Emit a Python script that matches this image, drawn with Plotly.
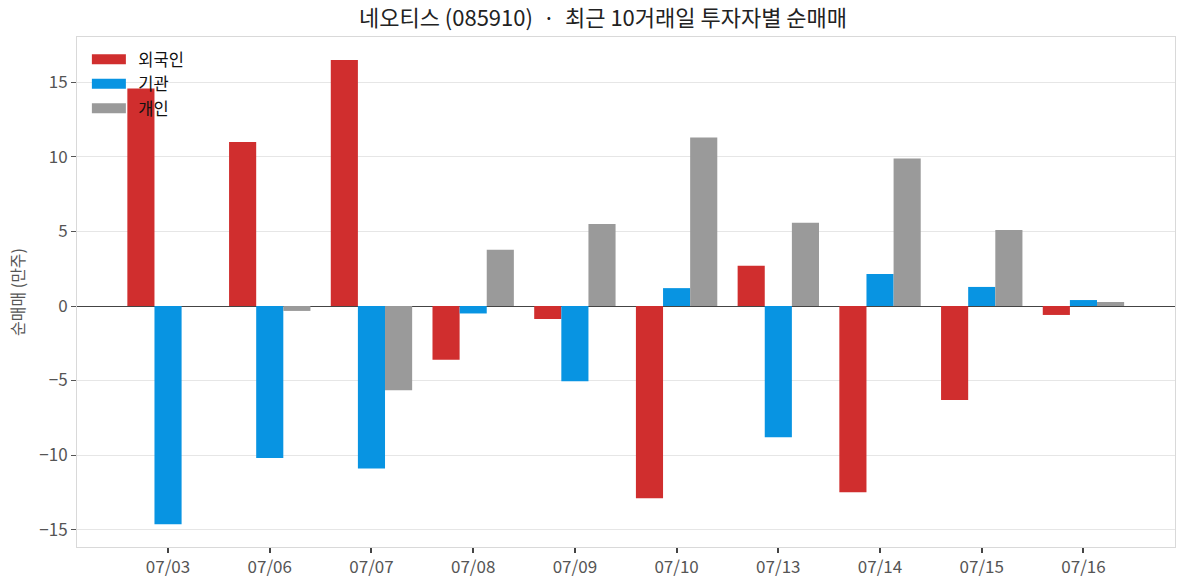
import plotly.graph_objects as go

dates = ["07/03", "07/06", "07/07", "07/08", "07/09", "07/10", "07/13", "07/14", "07/15", "07/16"]
foreign = [14.6, 11.0, 16.5, -3.6, -0.87, -12.9, 2.7, -12.5, -6.3, -0.6]
institution = [-14.65, -10.2, -10.9, -0.5, -5.05, 1.2, -8.8, 2.15, 1.28, 0.4]
individual = [0.0, -0.33, -5.65, 3.77, 5.5, 11.3, 5.58, 9.9, 5.1, 0.27]

names = ["외국인", "기관", "개인"]
colors = ["#d02e2e", "#0894e2", "#9a9a9a"]
series = [foreign, institution, individual]

FONT = "Noto Sans CJK KR"

fig = go.Figure()
for name, col, vals in zip(names, colors, series):
    fig.add_trace(go.Bar(x=dates, y=vals, name=name, marker=dict(color=col, line=dict(width=0)),
                         showlegend=False, legendgroup=name))
for name, col in zip(names, colors):
    fig.add_trace(go.Scatter(x=[None], y=[None], mode="lines", name="\u00a0\u00a0" + name,
                             line=dict(color=col, width=11), legendgroup=name, showlegend=True))

fig.update_layout(
    width=1187, height=587,
    margin=dict(l=77, r=12, t=37, b=40, autoexpand=False),
    paper_bgcolor="white", plot_bgcolor="white",
    barmode="group", bargap=0.2, bargroupgap=0,
    font=dict(family=FONT, size=16, color="#444"),
    title=dict(text="네오티스 (085910)  ·  최근 10거래일 투자자별 순매매",
               x=0.508, xanchor="center", y=0.969, yanchor="middle",
               font=dict(family=FONT, size=22, color="#222")),
    legend=dict(x=0.009, y=0.99, xanchor="left", yanchor="top", bgcolor="rgba(0,0,0,0)",
                font=dict(family=FONT, size=16.5, color="#111"), itemwidth=34,
                tracegroupgap=0),
    xaxis=dict(type="category", range=[-0.895, 9.9], showgrid=False, automargin=False,
               showline=True, linecolor="#d9d9d9", linewidth=1, mirror=True,
               ticks="outside", ticklen=5, tickcolor="#444", tickwidth=1.5,
               tickfont=dict(size=17, color="#555")),
    yaxis=dict(range=[-16.17, 18.05], tickvals=[-15, -10, -5, 0, 5, 10, 15], automargin=False,
               showgrid=True, gridcolor="#e6e6e6", gridwidth=1,
               zeroline=True, zerolinecolor="#444", zerolinewidth=1.2,
               showline=True, linecolor="#d9d9d9", linewidth=1, mirror=True,
               ticks="outside", ticklen=5, tickcolor="#555", tickwidth=1,
               tickfont=dict(size=17, color="#555"),
               title=dict(text="순매매 (만주)", font=dict(size=16, color="#555"), standoff=10)),
)

fig.write_html("out.html")
